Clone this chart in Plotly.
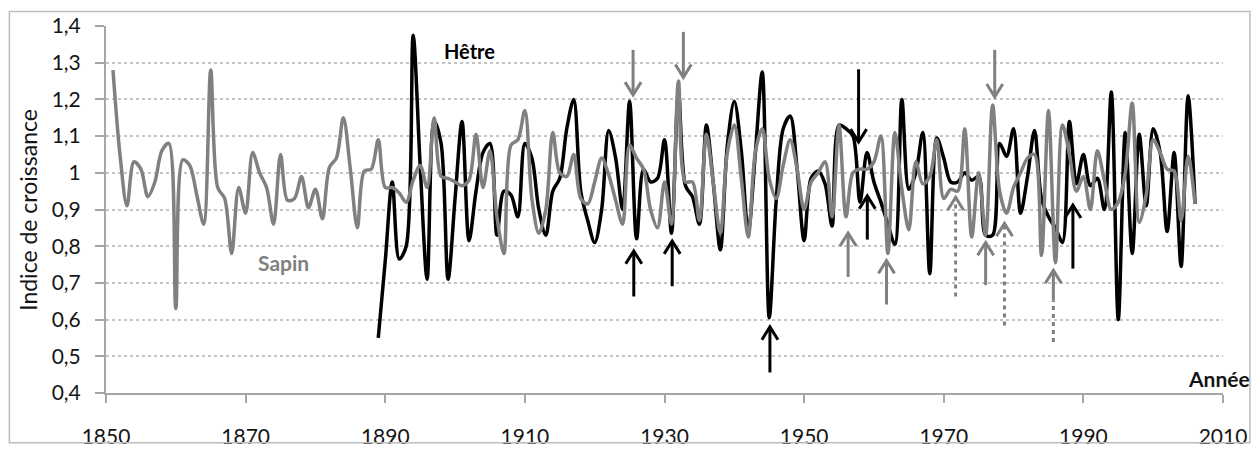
import plotly.graph_objects as go

# ---------------- data ----------------
sapin_years = list(range(1851, 2007))
sapin = [
    1.28, 1.05, 0.91, 1.03, 1.01, 0.935, 0.975, 1.06, 1.08, 0.63,      # 1851-1860
    1.035, 1.02, 0.94, 0.86, 1.28, 0.96, 0.93, 0.78, 0.96, 0.89,       # 1861-1870
    1.055, 1.0, 0.96, 0.86, 1.05, 0.925, 0.93, 0.99, 0.905, 0.955,     # 1871-1880
    0.875, 1.015, 1.04, 1.15, 1.01, 0.85, 1.005, 1.01, 1.09, 0.96,     # 1881-1890
    0.96, 0.945, 0.92, 0.98, 1.02, 0.96, 1.15, 0.99, 0.985, 0.975,     # 1891-1900
    0.965, 0.98, 1.105, 0.96, 1.06, 0.88, 0.78, 1.075, 1.09, 1.17,     # 1901-1910
    0.93, 0.835, 0.9, 1.11, 1.0, 0.99, 1.05, 0.93, 0.915, 0.975,       # 1911-1920
    1.04, 0.995, 0.925, 0.86, 1.075, 1.04, 1.01, 0.9, 0.85, 0.975,     # 1921-1930
    0.86, 1.25, 0.975, 0.975, 0.87, 1.105, 0.97, 0.835, 1.055, 1.13,   # 1931-1940
    0.985, 0.825, 1.055, 1.12, 0.985, 0.93, 1.02, 1.09, 1.01, 0.9,     # 1941-1950
    0.975, 1.0, 1.03, 0.88, 1.13, 0.88, 1.0, 1.01, 1.01, 1.03,         # 1951-1960
    1.1, 0.78, 1.11, 0.955, 0.845, 1.03, 0.97, 0.99, 1.09, 0.93,       # 1961-1970
    0.955, 0.95, 1.12, 0.825, 1.0, 0.83, 1.185, 0.95, 0.89, 0.96,      # 1971-1980
    1.0, 1.04, 1.05, 0.775, 1.17, 0.755, 1.13, 1.05, 0.95, 0.99,       # 1981-1990
    0.9, 1.06, 0.98, 0.9, 0.92, 1.0, 1.19, 0.865, 0.94, 1.09,          # 1991-2000
    1.055, 1.01, 1.005, 0.87, 1.045, 0.915,                            # 2001-2006
]

hetre_years = list(range(1889, 2007))
hetre = [
    0.55,                                                              # 1889
    0.76, 0.975, 0.765, 0.8, 1.375, 1.02, 0.71, 1.14, 1.08, 0.71,      # 1890-1899
    0.93, 1.14, 0.815, 0.95, 1.055, 1.08, 0.83, 0.95, 0.94, 0.88,      # 1900-1909
    1.08, 1.04, 0.9, 0.83, 0.95, 0.985, 1.12, 1.2, 0.95, 0.87,         # 1910-1919
    0.81, 0.9, 1.115, 1.04, 0.9, 1.195, 0.82, 1.01, 0.975, 0.985,      # 1920-1929
    1.09, 0.835, 1.22, 0.965, 0.935, 0.86, 1.13, 0.97, 0.79, 1.075,    # 1930-1939
    1.195, 1.06, 0.84, 1.05, 1.275, 0.605, 0.925, 1.12, 1.155, 1.01,   # 1940-1949
    0.815, 0.985, 1.005, 0.97, 0.855, 1.13, 1.12, 1.1, 0.92, 1.055,    # 1950-1959
    0.975, 0.92, 0.86, 0.805, 1.2, 0.955, 1.0, 1.11, 0.725, 1.095,     # 1960-1969
    1.04, 0.975, 0.975, 1.0, 0.98, 0.99, 0.83, 0.83, 1.08, 1.045,      # 1970-1979
    1.12, 0.89, 0.99, 1.115, 0.93, 0.88, 0.85, 0.81, 1.14, 0.97,       # 1980-1989
    1.05, 0.965, 0.985, 0.9, 1.22, 0.6, 1.11, 0.78, 1.105, 0.91,       # 1990-1999
    1.12, 1.055, 0.84, 1.055, 0.745, 1.21, 0.915,                      # 2000-2006
]

x_tickvals = [1850, 1870, 1890, 1910, 1930, 1950, 1970, 1990, 2010]
x_ticktext = ["1850", "1870", "1890", "1910", "1930", "1950", "1970", "1990", "2010"]
y_tickvals = [0.4, 0.5, 0.6, 0.7, 0.8, 0.9, 1.0, 1.1, 1.2, 1.3, 1.4]
y_ticktext = ["0,4", "0,5", "0,6", "0,7", "0,8", "0,9", "1", "1,1", "1,2", "1,3", "1,4"]

# arrow annotations: year, tail value, tip value, colour key, style
arrow_year = [1925.5, 1932.7, 1925.6, 1931.1, 1945.1, 1956.3, 1957.8, 1959.05,
              1961.8, 1971.7, 1976.0, 1977.3, 1978.7, 1985.7, 1985.7, 1988.5]
arrow_tail = [1.335, 1.384, 0.663, 0.691, 0.456, 0.716, 1.282, 0.818,
              0.641, 0.663, 0.694, 1.335, 0.584, 0.539, 0.652, 0.739]
arrow_tip = [1.212, 1.26, 0.787, 0.814, 0.58, 0.836, 1.084, 0.937,
             0.761, 0.933, 0.81, 1.207, 0.862, 0.652, 0.734, 0.912]
arrow_col = ["g", "g", "k", "k", "k", "g", "k", "k",
             "g", "g", "g", "g", "g", "g", "g", "k"]
arrow_style = ["solid", "solid", "solid", "solid", "solid", "solid", "solid", "solid",
               "solid", "dot", "solid", "solid", "dot", "dotline", "solid", "solid"]

# ---------------- styles ----------------
GRAY = "#808080"
BLACK = "#000000"
FONT = "Lato"
TXT = "#141414"

fig = go.Figure()
fig.add_trace(go.Scatter(x=hetre_years, y=hetre, mode="lines", name="Hêtre",
                         line=dict(color=BLACK, width=3.5, shape="spline", smoothing=0.9),
                         hoverinfo="x+y"))
fig.add_trace(go.Scatter(x=sapin_years, y=sapin, mode="lines", name="Sapin",
                         line=dict(color=GRAY, width=3.5, shape="spline", smoothing=0.9),
                         hoverinfo="x+y"))

shapes = []
HX = 1.15    # half-width of arrow head in years
HY = 0.035   # height of arrow head in value units
for xv, tl, tp, ck, st in zip(arrow_year, arrow_tail, arrow_tip, arrow_col, arrow_style):
    col = GRAY if ck == "g" else BLACK
    s = 1 if tl > tp else -1
    if st == "dotline":
        shapes.append(dict(type="line", xref="x", yref="y", x0=xv, x1=xv, y0=tl, y1=tp,
                           line=dict(color=col, width=3, dash="4px,4px"), layer="above"))
        continue
    dash = "4px,4px" if st == "dot" else "solid"
    shapes.append(dict(type="line", xref="x", yref="y", x0=xv, x1=xv, y0=tl, y1=tp,
                       line=dict(color=col, width=3, dash=dash), layer="above"))
    shapes.append(dict(type="path", xref="x", yref="y",
                       path=f"M {xv - HX},{tp + s * HY} L {xv},{tp} L {xv + HX},{tp + s * HY}",
                       line=dict(color=col, width=3), layer="above"))

# chart-area border
shapes.append(dict(type="rect", xref="paper", yref="paper",
                   x0=-0.0865, x1=1.0241, y0=-0.1353, y1=1.0398,
                   line=dict(color="#bdbdbd", width=1.5), fillcolor="rgba(0,0,0,0)",
                   layer="above"))

annotations = [
    dict(text="<b>Hêtre</b>", x=1902.1, y=1.331, xref="x", yref="y", showarrow=False,
         font=dict(family=FONT, size=20, color=BLACK)),
    dict(text="<b>Sapin</b>", x=1875.4, y=0.756, xref="x", yref="y", showarrow=False,
         font=dict(family=FONT, size=21, color=GRAY)),
    dict(text="<b>Année</b>", x=1.0256, y=0.04, xref="paper", yref="paper", showarrow=False,
         xanchor="right", yanchor="middle", font=dict(family=FONT, size=21, color=TXT)),
    dict(text="Indice de croissance", x=-0.0704, y=0.5, xref="paper", yref="paper",
         showarrow=False, textangle=-90, xanchor="center", yanchor="middle",
         font=dict(family=FONT, size=23, color=TXT)),
]

fig.update_layout(
    width=1259, height=460,
    margin=dict(l=106, r=35, t=24, b=59),
    paper_bgcolor="white", plot_bgcolor="white",
    showlegend=False,
    font=dict(family=FONT, color=TXT),
    shapes=shapes,
    annotations=annotations,
    xaxis=dict(range=[1850, 2010], tickvals=x_tickvals, ticktext=x_ticktext,
               showgrid=False, zeroline=False, showline=True, linecolor="#a6a6a6", linewidth=2,
               ticks="outside", ticklen=8, tickcolor="#a6a6a6", tickwidth=2,
               tickfont=dict(family=FONT, size=21, color=TXT), ticklabelstandoff=16),
    yaxis=dict(range=[0.4, 1.4], tickvals=y_tickvals, ticktext=y_ticktext,
               showgrid=True, gridcolor="#c4c4c4", gridwidth=1.5, griddash="dot",
               zeroline=False, showline=True, linecolor="#a6a6a6", linewidth=2,
               ticks="outside", ticklen=9, tickcolor="#a6a6a6", tickwidth=2,
               tickfont=dict(family=FONT, size=21, color=TXT), ticklabelstandoff=10),
)

fig.write_html("out.html", config={"displayModeBar": False},
               post_script="document.body.style.margin='0';document.body.style.overflow='hidden';")
